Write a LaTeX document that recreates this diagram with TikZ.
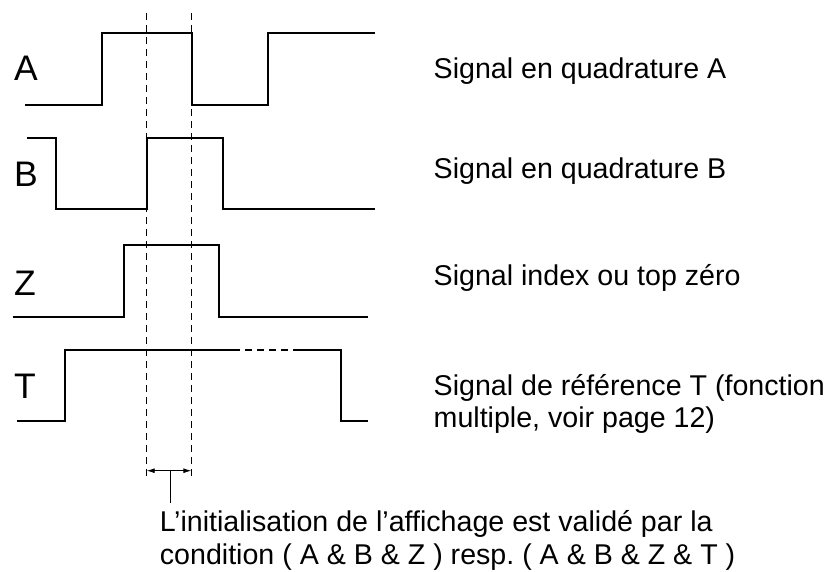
\documentclass[tikz,border=0pt]{standalone}
\usepackage{fontspec}
\setmainfont{Liberation Sans}
\usetikzlibrary{arrows.meta}
\frenchspacing
\begin{document}
\begin{tikzpicture}[x=1pt,y=-1pt,
  wave/.style={line width=2pt, line join=miter, line cap=butt},
  guide/.style={line width=0.9pt, dash pattern=on 7pt off 5pt},
  tdash/.style={line width=2pt, dash pattern=on 7pt off 5pt},
  dim/.style={line width=0.9pt, {Latex[length=8pt,width=5pt]}-{Latex[length=8pt,width=5pt]}},
  leader/.style={line width=0.9pt},
  siglabel/.style={anchor=base west, inner sep=0pt, font=\fontsize{35.5}{40}\selectfont},
  desc/.style={anchor=base west, inner sep=0pt, font=\fontsize{28.6}{33}\selectfont},
]
\useasboundingbox (0,0) rectangle (836,571);

% guide lines
\coordinate (g1t) at (146.7,13);
\coordinate (g1b) at (146.7,480);
\coordinate (g2t) at (191.3,13);
\coordinate (g2b) at (191.3,480);
\draw[guide] (g1t) -- (g1b);
\draw[guide] (g2t) -- (g2b);

% A
\draw[wave] (25,105) -- (101.7,105) -- (101.7,33) -- (192,33) -- (192,105) -- (268,105) -- (268,33) -- (375,33);
% B
\draw[wave] (27,138) -- (56,138) -- (56,209) -- (146.7,209) -- (146.7,138) -- (222.7,138) -- (222.7,209) -- (375,209);
% Z
\draw[wave] (12.7,316.7) -- (124.3,316.7) -- (124.3,245) -- (219.3,245) -- (219.3,316.7) -- (367.7,316.7);
% T
\draw[wave] (17.3,420.7) -- (65,420.7) -- (65,350) -- (240,350);
\draw[tdash] (245,350) -- (288,350);
\draw[wave] (293,350) -- (340.7,350) -- (340.7,420.7) -- (367.7,420.7);

% dimension
\coordinate (d1) at (146.7,470.7);
\coordinate (d2) at (191.3,470.7);
\coordinate (ld1) at (170,470.7);
\coordinate (ld2) at (170,503);
\draw[dim] (d1) -- (d2);
\draw[leader] (ld1) -- (ld2);

% signal labels
\node[siglabel] (la) at (14,80) {A};
\node[siglabel] (lb) at (14,186.7) {B};
\node[siglabel] (lz) at (14,295) {Z};
\node[siglabel] (lt) at (14,398) {T};

% descriptions
\node[desc] (da) at (433.5,78) {Signal en quadrature A};
\node[desc] (db) at (433.5,178) {Signal en quadrature B};
\node[desc] (dz) at (433.5,285) {Signal index ou top zéro};
\node[desc] (dt1) at (433.5,395) {Signal de référence T (fonction};
\node[desc] (dt2) at (433.5,427) {multiple, voir page 12)};

% bottom note
\node[desc] (n1) at (159.7,531.7) {L’initialisation de l’affichage est validé par la};
\node[desc] (n2) at (159.7,564) {condition ( A \& B \& Z ) resp. ( A \& B \& Z \& T )};
\end{tikzpicture}
\end{document}
